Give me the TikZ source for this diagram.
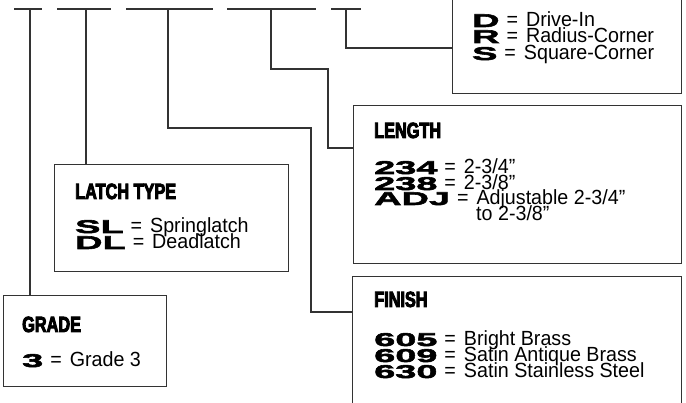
\documentclass[tikz,border=0pt]{standalone}
\usepackage{fontspec}
\setmainfont{Liberation Sans}[FakeStretch=0.96]
\newfontfamily\headfont{Liberation Sans Bold}[FakeStretch=0.74,FakeBold=4]
\newfontfamily\codefont{Liberation Sans Bold}[FakeStretch=2.05,FakeBold=3]
\newcommand{\hd}[1]{{\headfont\fontsize{22}{22}\selectfont #1}}
\newcommand{\cd}[1]{{\codefont\fontsize{18.5}{18.5}\selectfont #1}}
\newcommand{\eq}{\hspace{7pt}=\hspace{8pt}}
\definecolor{ln}{HTML}{333333}
\tikzset{
  box/.style={draw=ln, line width=1.2pt, anchor=north west, inner sep=0pt},
  conn/.style={draw=ln, line width=1.1pt},
  txt/.style={anchor=base west, inner sep=0pt, font=\fontsize{20.5}{20.5}\selectfont, text=black}
}
\begin{document}
\begin{tikzpicture}[x=1pt,y=-1pt]
\useasboundingbox (0,0) rectangle (686,403);
\begin{scope}
\clip (0,0) rectangle (686,403);
% boxes
\node[box, minimum width=229pt, minimum height=103pt] (typ) at (452,-10) {};
\node[box, minimum width=328pt, minimum height=158pt] (len) at (353,105) {};
\node[box, minimum width=329pt, minimum height=140pt] (fin) at (352,276) {};
\node[box, minimum width=234pt, minimum height=107pt] (lat) at (54,164) {};
\node[box, minimum width=163pt, minimum height=91pt] (grd) at (3,295) {};
\end{scope}
% top bars
\coordinate (s1) at (30,9);
\coordinate (s2) at (86,9);
\coordinate (s3) at (168,9);
\coordinate (s4) at (271,9);
\coordinate (s5) at (346,9);
\draw[conn] (14,9) -- (42,9);
\draw[conn] (57,9) -- (111,9);
\draw[conn] (126,9) -- (213,9);
\draw[conn] (227,9) -- (316,9);
\draw[conn] (331,9) -- (361,9);
% connectors
\draw[conn] (s1) -- (s1 |- grd.north);
\draw[conn] (s2) -- (s2 |- lat.north);
\draw[conn] (s3) -- (168,128) -- (311,128) -- (311,312) -- (fin.west |- 0,312);
\draw[conn] (s4) -- (271,69) -- (328,69) -- (328,148) -- (len.west |- 0,148);
\draw[conn] (s5) -- (346,48) -- (typ.west |- 0,48);
% type box text
\node[txt] (d) at (472,27) {\cd{D}\eq Drive-In};
\node[txt] (r) at (472,43) {\cd{R}\eq Radius-Corner};
\node[txt] (s) at (472,60) {\cd{S}\eq Square-Corner};
% length
\node[txt] (lh) at (374,138) {\hd{LENGTH}};
\node[txt] (l1) at (374,174) {\cd{234}\eq 2-3/4”};
\node[txt] (l2) at (374,190) {\cd{238}\eq 2-3/8”};
\node[txt] (l3) at (374,205) {\cd{ADJ}\eq Adjustable 2-3/4”};
\node[txt] (l4) at (476,221) {to 2-3/8”};
% finish
\node[txt] (fh) at (374,307) {\hd{FINISH}};
\node[txt] (f1) at (374,346) {\cd{605}\eq Bright Brass};
\node[txt] (f2) at (374,362) {\cd{609}\eq Satin Antique Brass};
\node[txt] (f3) at (374,378) {\cd{630}\eq Satin Stainless Steel};
% latch
\node[txt] (lth) at (75,199) {\hd{LATCH TYPE}};
\node[txt] (lt1) at (75,233) {\cd{SL}\eq Springlatch};
\node[txt] (lt2) at (75,249) {\cd{DL}\eq Deadlatch};
% grade
\node[txt] (gh) at (22,332) {\hd{GRADE}};
\node[txt] (g1) at (22,367) {\cd{3}\eq Grade 3};
\end{tikzpicture}
\end{document}
